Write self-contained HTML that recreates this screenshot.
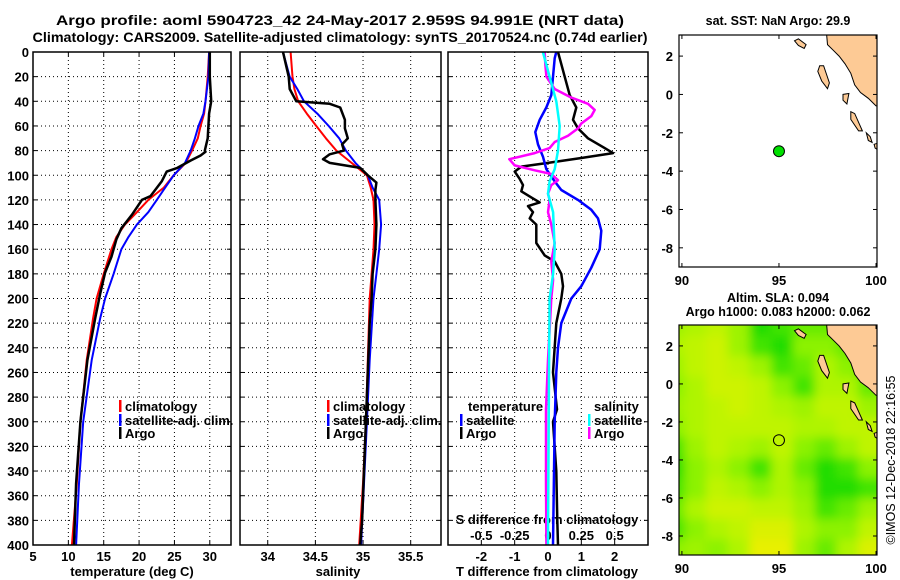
<!DOCTYPE html>
<html><head><meta charset="utf-8"><style>
html,body{margin:0;padding:0;background:#fff;}
svg{display:block;font-family:"Liberation Sans",sans-serif;font-weight:bold;}
</style></head><body>
<svg id="fig" width="900" height="580" viewBox="0 0 900 580" xmlns="http://www.w3.org/2000/svg">
<defs>
<clipPath id="c1"><rect x="33" y="52" width="198" height="493"/></clipPath>
<clipPath id="c2"><rect x="240" y="52" width="201" height="493"/></clipPath>
<clipPath id="c3"><rect x="448" y="52" width="200" height="493"/></clipPath>
<clipPath id="cm1"><rect x="679" y="35" width="198" height="232"/></clipPath>
<clipPath id="cm2"><rect x="679" y="325" width="198" height="230"/></clipPath>
<filter id="bl" x="-5%" y="-5%" width="110%" height="110%"><feGaussianBlur stdDeviation="5"/></filter>
</defs>
<text x="340" y="25" font-size="13.5" text-anchor="middle" textLength="568" lengthAdjust="spacingAndGlyphs">Argo profile: aoml 5904723_42 24-May-2017 2.959S 94.991E (NRT data)</text>
<text x="340" y="42" font-size="13.5" text-anchor="middle" textLength="615" lengthAdjust="spacingAndGlyphs">Climatology: CARS2009. Satellite-adjusted climatology: synTS_20170524.nc (0.74d earlier)</text>
<g id="g"></g>
</svg>
<script>
// ---- Profile data (depth in m) ----
const tDepth = [0,20,40,50,60,70,80,90,100,110,120,130,140,150,160,180,200,216,250,300,350,400];
const tClim  = [29.9,29.7,29.4,29.2,28.7,28.3,27.5,26.6,24.9,23.5,21.3,19.7,18.0,16.8,16.1,15.0,14.0,13.5,12.6,11.7,11.2,10.5];
const tSat   = [29.9,29.8,29.4,29.1,28.4,27.9,27.3,26.5,24.9,23.7,22.5,21.3,19.7,18.5,17.5,16.4,15.2,14.5,13.3,12.1,11.5,11.1];
const tArgoDepth = [0,20,40,50,70,80,81,84,88,94,97,105,117,120,132,143,152,166,179,196,216,250,300,350,400];
const tArgo      = [30.0,30.0,30.2,29.9,29.7,29.3,29.4,28.7,27.3,25.4,23.9,23.2,21.6,20.4,19.0,17.5,16.8,16.1,15.2,14.5,13.8,12.7,11.7,11.1,10.8];

const sDepth = [0,20,30,40,50,60,70,80,90,100,110,120,140,160,180,200,250,300,350,400];
const sClim  = [34.24,34.26,34.28,34.32,34.41,34.51,34.61,34.72,34.88,35.04,35.08,35.11,35.12,35.11,35.09,35.07,35.05,35.03,35.0,34.96];
const sSat   = [34.16,34.23,34.31,34.38,34.52,34.64,34.75,34.82,34.92,35.05,35.10,35.17,35.19,35.17,35.14,35.11,35.07,35.04,35.01,34.98];
const sArgoDepth = [0,20,30,40,42,45,55,62,70,75,80,83,87,90,94,100,106,112,120,140,160,180,200,220,260,300,340,380,400];
const sArgo      = [34.16,34.22,34.23,34.30,34.65,34.76,34.81,34.81,34.84,34.78,34.80,34.65,34.58,34.65,34.97,35.05,35.14,35.13,35.13,35.14,35.13,35.10,35.09,35.07,35.05,35.03,35.01,34.99,34.97];

// T differences in deg C; S differences expressed on the S axis (0.25 per T unit)
const dDepthTA = [0,5,20,35,45,55,62,70,78,82,86,90,93,97,103,108,113,118,122,125,130,135,140,147,155,165,170,180,190,200,220,260,290,300,340,380,400];
const dTArgo   = [0.3,0.35,0.5,0.65,0.85,0.75,0.9,1.2,1.7,1.95,1.0,0.0,-0.8,-1.0,-0.85,-0.75,-0.8,-0.5,-0.25,-0.6,-0.45,-0.55,-0.35,-0.35,-0.35,-0.1,0.2,0.4,0.45,0.4,0.25,0.15,0.27,0.15,0.25,0.28,0.3];
const dDepthTS = [0,5,20,35,45,55,65,75,85,95,105,112,120,128,135,145,160,175,190,200,220,240,260,300,400];
const dTSat    = [0.25,0.2,0.15,0.1,-0.05,-0.25,-0.38,-0.3,-0.15,-0.05,0.2,0.4,0.9,1.3,1.5,1.6,1.55,1.3,1.0,0.7,0.4,0.3,0.25,0.2,0.15];
const dDepthSA = [0,10,20,30,37,42,47,52,58,62,68,73,78,82,87,92,96,99,104,108,115,120,130,140,155,170,185,200,250,290,350,400];
const dSArgo   = [-0.025,-0.02,-0.012,0.05,0.175,0.3,0.35,0.325,0.25,0.225,0.15,0.05,0.012,-0.1,-0.29,-0.25,-0.1,0.025,0.075,0.025,0.0,0.012,0.0,0.025,0.05,0.025,0.038,0.025,0.0,-0.015,-0.015,-0.012];
const dDepthSS = [0,20,40,60,80,95,105,115,130,160,180,200,250,300,400];
const dSSat    = [-0.038,0.012,0.062,0.088,0.075,0.05,0.012,0.0,0.038,0.05,0.038,0.012,0.008,0.005,0.0];

const depthTicks = [0,20,40,60,80,100,120,140,160,180,200,220,240,260,280,300,320,340,360,380,400];
const tTicks = [5,10,15,20,25,30];
const sTicks = [34,34.5,35,35.5];
const dTicks = [-2,-1,0,1,2];
const sDiffTicks = [-0.5,-0.25,0,0.25,0.5];
const sDiffLabels = ['-0.5','-0.25','0','0.25','0.5'];

// ---- Map data ----
const latTicks = [2,0,-2,-4,-6,-8];
const lonTicks = [90,95,100];
const floatLon = 95.0, floatLat = -2.96;
const slaRows = [
 [0.5,0.4,0.3,0.5,0.9,0.8,0.7,0.7,0.8,0.8],
 [0.4,0.3,0.2,0.5,0.8,0.9,0.6,0.6,0.7,0.8],
 [0.5,0.3,0.2,0.3,0.5,0.8,0.7,0.4,0.6,0.8],
 [0.6,0.4,0.2,0.2,0.3,0.6,0.8,0.4,0.4,0.7],
 [0.5,0.4,0.3,0.2,0.3,0.4,0.5,0.3,0.3,0.5],
 [0.6,0.4,0.3,0.3,0.3,0.3,0.4,0.4,0.3,0.3],
 [0.8,0.5,0.3,0.4,0.5,0.3,0.6,0.7,0.5,0.3],
 [0.9,0.6,0.4,0.6,0.8,0.4,0.7,0.9,0.8,0.6],
 [0.8,0.6,0.3,0.4,0.6,0.4,0.6,0.9,0.9,0.8],
 [0.7,0.4,0.2,0.2,0.3,0.3,0.5,0.8,0.7,0.5],
 [0.8,0.6,0.4,0.3,0.1,0.1,0.4,0.6,0.6,0.3],
 [0.6,0.5,0.6,0.4,0.0,0.0,0.5,0.7,0.4,0.1]
];
const landPolys = [
 [[97.45,3.2],[97.5,2.6],[97.8,2.3],[98.1,2.0],[98.4,1.6],[98.7,1.1],[98.9,0.5],[99.2,0.1],[99.6,-0.2],[100.0,-0.6],[100.2,-0.6],[100.2,3.2]],
 [[95.8,2.8],[96.0,2.9],[96.4,2.6],[96.3,2.4],[96.0,2.55]],
 [[97.1,1.5],[97.3,1.5],[97.6,0.6],[97.5,0.3],[97.2,0.7],[97.0,1.2]],
 [[98.3,0.0],[98.6,0.05],[98.5,-0.5],[98.3,-0.3]],
 [[98.7,-0.9],[98.9,-1.0],[99.3,-1.9],[99.1,-1.9],[98.7,-1.3]],
 [[99.5,-2.0],[99.7,-2.2],[99.8,-2.5],[99.6,-2.4]],
 [[99.9,-2.6],[100.2,-2.5],[100.2,-2.95],[99.95,-2.8]]
];

const NS='http://www.w3.org/2000/svg';
const G=document.getElementById('g');
function el(tag,attrs,parent){const e=document.createElementNS(NS,tag);for(const k in attrs)e.setAttribute(k,attrs[k]);(parent||G).appendChild(e);return e;}
function txt(x,y,s,size,anchor,parent){const t=el('text',{x:x,y:y,'font-size':size,'text-anchor':anchor||'middle'},parent);t.textContent=s;return t;}

const Y0=52,Y1=545;
const yD=d=>Y0+d*(Y1-Y0)/400;
function lin(d0,d1,r0,r1){return v=>r0+(v-d0)*(r1-r0)/(d1-d0);}
const P=[
 {x0:33,x1:231,xs:lin(5,33,33,231),clip:'c1'},
 {x0:240,x1:441,xs:lin(33.709,35.818,240,441),clip:'c2'},
 {x0:448,x1:648,xs:lin(-3,3,448,648),clip:'c3'}
];
const grids=[tTicks.slice(1),sTicks,dTicks];
P.forEach((p,i)=>{
  const ax=el('g',{});
  
  
  grids[i].forEach(v=>{const gl=el('line',{x1:p.xs(v),x2:p.xs(v),y1:Y0,y2:Y1,stroke:'#000','stroke-width':1,'stroke-dasharray':'1,3'},ax);
    });
  depthTicks.slice(1,-1).forEach(d=>{const gl=el('line',{x1:p.x0,x2:p.x1,y1:yD(d),y2:yD(d),stroke:'#000','stroke-width':1,'stroke-dasharray':'1,3'},ax);
    });
  depthTicks.forEach(d=>{el('line',{x1:p.x0,x2:p.x0+4,y1:yD(d),y2:yD(d),stroke:'#000'},ax);el('line',{x1:p.x1-4,x2:p.x1,y1:yD(d),y2:yD(d),stroke:'#000'},ax);});
  p.ax=ax;
});
depthTicks.forEach(d=>{const t=txt(29,yD(d)+5,String(d),13,'end');});
tTicks.forEach(v=>{const t=txt(P[0].xs(v),561,String(v),13);
  el('line',{x1:P[0].xs(v),x2:P[0].xs(v),y1:Y1-4,y2:Y1,stroke:'#000'});el('line',{x1:P[0].xs(v),x2:P[0].xs(v),y1:Y0,y2:Y0+4,stroke:'#000'});});
sTicks.forEach(v=>{const t=txt(P[1].xs(v),561,String(v),13);
  el('line',{x1:P[1].xs(v),x2:P[1].xs(v),y1:Y1-4,y2:Y1,stroke:'#000'});});
dTicks.forEach(v=>{const t=txt(P[2].xs(v),561,String(v),13);
  el('line',{x1:P[2].xs(v),x2:P[2].xs(v),y1:Y1-4,y2:Y1,stroke:'#000'});});
sDiffTicks.forEach((v,i)=>{const t=txt(P[2].xs(v*4),540,sDiffLabels[i],13);});
let t;
t=txt(547,524,'S difference from climatology',13);
t=txt(132,576,'temperature (deg C)',13);
t=txt(338,576,'salinity',13);
t=txt(547,576,'T difference from climatology',13);

function series(pi,depths,vals,color,w,name,scale){
  const p=P[pi];const sc=scale||1;
  const pts=depths.map((d,i)=>p.xs(vals[i]*sc).toFixed(1)+','+yD(d).toFixed(1)).join(' ');
  const l=el('polyline',{points:pts,fill:'none',stroke:color,'stroke-width':w,'stroke-linejoin':'round','clip-path':'url(#'+p.clip+')'});
  
  
}
series(0,tDepth,tClim,'#f00',2,'climatology-temperature-line');
series(0,tDepth,tSat,'#00f',2,'satellite-temperature-line');
series(0,tArgoDepth,tArgo,'#000',2.5,'argo-temperature-line');
series(1,sDepth,sClim,'#f00',2,'climatology-salinity-line');
series(1,sDepth,sSat,'#00f',2,'satellite-salinity-line');
series(1,sArgoDepth,sArgo,'#000',2.5,'argo-salinity-line');
series(2,dDepthTA,dTArgo,'#000',2.5,'argo-t-difference-line');
series(2,dDepthTS,dTSat,'#00f',2.5,'satellite-t-difference-line');
series(2,dDepthSA,dSArgo,'#f0f',2.5,'argo-s-difference-line',4);
series(2,dDepthSS,dSSat,'#0ff',2.5,'satellite-s-difference-line',4);

P.forEach((p,i)=>{const r=el('rect',{x:p.x0,y:Y0,width:p.x1-p.x0,height:Y1-Y0,fill:'none',stroke:'#000','stroke-width':1.5});
  });

function legendEntry(x,y,color,label,name){
  const g=el('g',{});
  
  
  if(color) el('rect',{x:x,y:y-11,width:2.5,height:12,fill:color},g);
  txt(x+6,y,label,13,'start',g);
}
legendEntry(119,411,'#f00','climatology','legend-entry-climatology');
legendEntry(119,425,'#00f','satellite-adj. clim.','legend-entry-satellite-adj');
legendEntry(119,438,'#000','Argo','legend-entry-argo');
legendEntry(327,411,'#f00','climatology','legend-entry-climatology');
legendEntry(327,425,'#00f','satellite-adj. clim.','legend-entry-satellite-adj');
legendEntry(327,438,'#000','Argo','legend-entry-argo');
legendEntry(462,411,null,'temperature','legend-heading-temperature');
legendEntry(460,425,'#00f','satellite','legend-entry-t-satellite');
legendEntry(460,438,'#000','Argo','legend-entry-t-argo');
legendEntry(588,411,null,'salinity','legend-heading-salinity');
legendEntry(588,425,'#0ff','satellite','legend-entry-s-satellite');
legendEntry(588,438,'#f0f','Argo','legend-entry-s-argo');

// ---- Maps ----
const MX0=679,MX1=877;
const mx=lin(89.85,100.05,MX0,MX1);
function drawMap(y0,y1,clip,name,filled){
  const my=lin(3.1,-9,y0,y1);
  const g=el('g',{});
  
  
  const inner=el('g',{'clip-path':'url(#'+clip+')'},g);
  if(filled){
    el('rect',{x:MX0,y:y0,width:MX1-MX0,height:y1-y0,fill:'rgb(150,242,0)'},inner);
    const hg=el('g',{filter:'url(#bl)'},inner);
    const stops=[[0,[232,240,0]],[0.35,[184,245,0]],[0.6,[140,242,0]],[0.85,[48,224,0]],[1,[0,216,0]]];
    const col=v=>{for(let k=1;k<stops.length;k++){if(v<=stops[k][0]){const a=stops[k-1],b=stops[k];const f=(v-a[0])/(b[0]-a[0]);return 'rgb('+a[1].map((c,j)=>Math.round(c+(b[1][j]-c)*f)).join(',')+')';}}return 'rgb(0,216,0)';};
    slaRows.forEach((row,r)=>row.forEach((v,c)=>{
      const lon0=89.0+c*1.12, lat0=3.6-r*1.07;
      const w=(c===9?2.5:1.2), h=(r===11?2.0:1.15);
      const cell=el('rect',{x:mx(lon0),y:my(lat0),width:mx(lon0+w)-mx(lon0),height:my(lat0-h)-my(lat0),fill:col(v)},hg);
      
      
    }));
  }
  landPolys.forEach(poly=>{
    const lp=el('polygon',{points:poly.map(q=>mx(q[0]).toFixed(1)+','+my(q[1]).toFixed(1)).join(' '),fill:'#fdca95',stroke:'#000','stroke-width':1},inner);
    
    
  });
  const dot=el('circle',{cx:mx(floatLon),cy:my(floatLat),r:5.5,fill:filled?'none':'#00e000',stroke:'#000','stroke-width':1},g);
  
  
  el('rect',{x:MX0,y:y0,width:MX1-MX0,height:y1-y0,fill:'none',stroke:'#000','stroke-width':1.2},g);
  latTicks.forEach(v=>{el('line',{x1:MX0,x2:MX0+4,y1:my(v),y2:my(v),stroke:'#000'},g);el('line',{x1:MX1-4,x2:MX1,y1:my(v),y2:my(v),stroke:'#000'},g);
    const tl=txt(673,my(v)+5,String(v),13,'end',g);});
  lonTicks.forEach(v=>{el('line',{x1:mx(v),x2:mx(v),y1:y1-4,y2:y1,stroke:'#000'},g);el('line',{x1:mx(v),x2:mx(v),y1:y0,y2:y0+4,stroke:'#000'},g);
    const tl=txt(mx(v),y1+18,String(v),13,'middle',g);});
}
drawMap(35,267,'cm1','sst-map',false);
drawMap(325,555,'cm2','sla-map',true);
t=txt(778,25,'sat. SST: NaN Argo: 29.9',12.5);
t=txt(778,302,'Altim. SLA: 0.094',12.5);
t=txt(778,316,'Argo h1000: 0.083 h2000: 0.062',12.5);
t=txt(0,0,'©IMOS 12-Dec-2018 22:16:55',12.5,'middle');t.setAttribute('transform','translate(895,460) rotate(-90)');t.setAttribute('font-weight','normal');

</script>
</body></html>
